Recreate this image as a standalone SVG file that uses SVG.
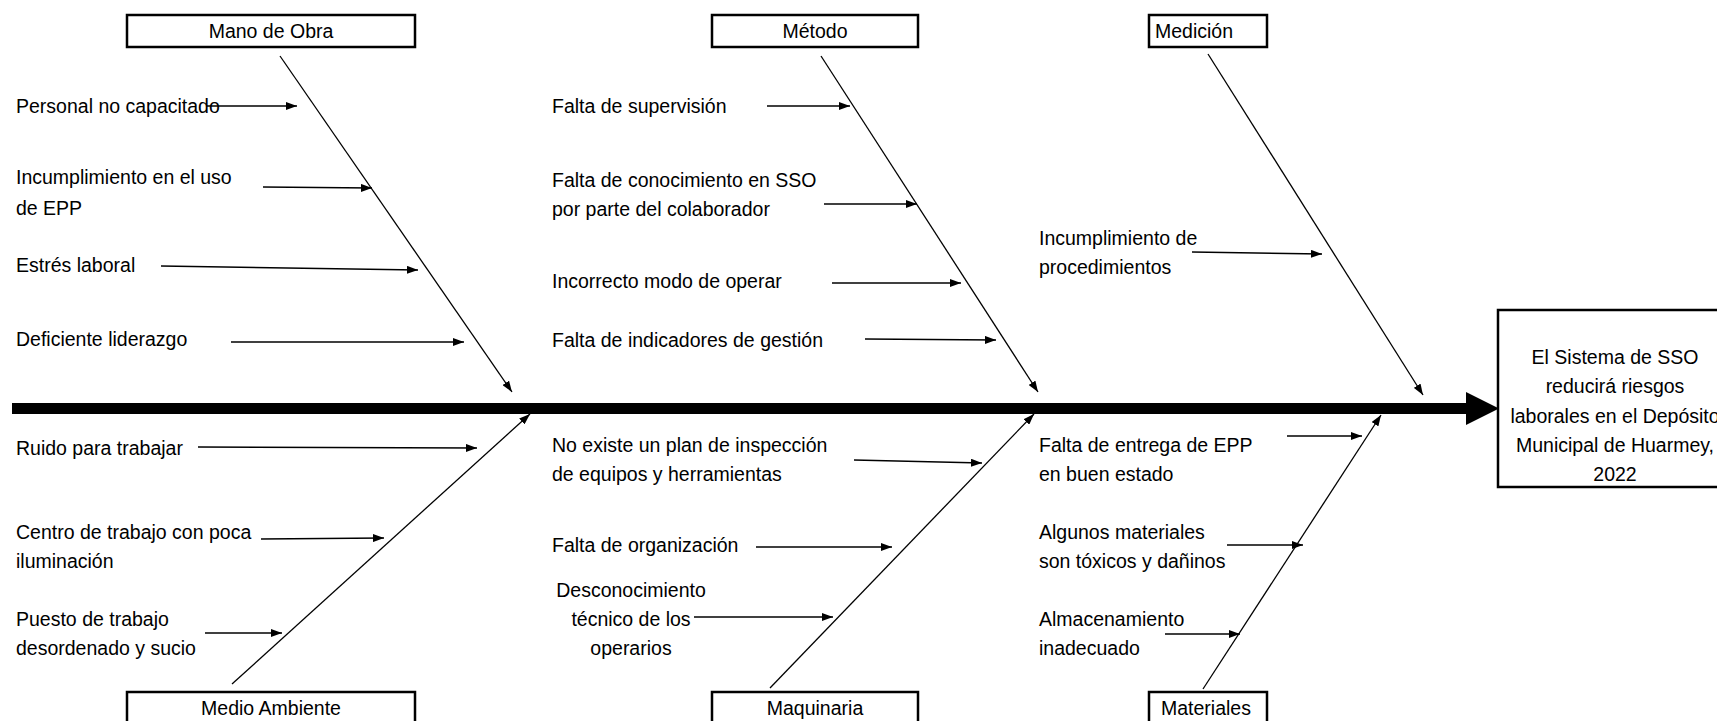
<svg xmlns="http://www.w3.org/2000/svg" width="1717" height="721" viewBox="0 0 1717 721">
<style>
text{font-family:"Liberation Sans",Arial,sans-serif;font-size:19.5px;fill:#000}
.c{text-anchor:middle}
.box{fill:#fff;stroke:#000;stroke-width:2.5}
.bone{stroke:#000;stroke-width:1.3;fill:none}
.arr{stroke:#000;stroke-width:1.5;fill:none}
</style>
<defs>
<marker id="ah" markerUnits="userSpaceOnUse" markerWidth="11" markerHeight="8" refX="11" refY="4" orient="auto">
<path d="M0,0 L11,4 L0,8 z" fill="#000"/>
</marker>
</defs>
<rect width="1717" height="721" fill="#fff"/>
<g id="connectors">
<rect x="12" y="403" width="1456" height="11" fill="#000"/>
<path d="M1466,392 L1499,408.5 L1466,425 z" fill="#000"/>
<line class="bone" x1="280" y1="56" x2="512" y2="392" marker-end="url(#ah)"/>
<line class="bone" x1="821" y1="56" x2="1038" y2="392" marker-end="url(#ah)"/>
<line class="bone" x1="1208" y1="54" x2="1423" y2="395" marker-end="url(#ah)"/>
<line class="bone" x1="232" y1="684" x2="530" y2="414" marker-end="url(#ah)"/>
<line class="bone" x1="770" y1="688" x2="1034" y2="414" marker-end="url(#ah)"/>
<line class="bone" x1="1203" y1="689" x2="1381" y2="415" marker-end="url(#ah)"/>
<line class="arr" x1="207" y1="106" x2="297" y2="106" marker-end="url(#ah)"/>
<line class="arr" x1="263" y1="187" x2="372" y2="188" marker-end="url(#ah)"/>
<line class="arr" x1="161" y1="266" x2="418" y2="270" marker-end="url(#ah)"/>
<line class="arr" x1="231" y1="342" x2="464" y2="342" marker-end="url(#ah)"/>
<line class="arr" x1="767" y1="106" x2="850" y2="106" marker-end="url(#ah)"/>
<line class="arr" x1="824" y1="204" x2="917" y2="204" marker-end="url(#ah)"/>
<line class="arr" x1="832" y1="283" x2="961" y2="283" marker-end="url(#ah)"/>
<line class="arr" x1="865" y1="339" x2="996" y2="340" marker-end="url(#ah)"/>
<line class="arr" x1="1192" y1="252" x2="1322" y2="254" marker-end="url(#ah)"/>
<line class="arr" x1="198" y1="447" x2="477" y2="448" marker-end="url(#ah)"/>
<line class="arr" x1="261" y1="539" x2="384" y2="538" marker-end="url(#ah)"/>
<line class="arr" x1="205" y1="633" x2="282" y2="633" marker-end="url(#ah)"/>
<line class="arr" x1="854" y1="460" x2="982" y2="463" marker-end="url(#ah)"/>
<line class="arr" x1="756" y1="547" x2="892" y2="547" marker-end="url(#ah)"/>
<line class="arr" x1="694" y1="617" x2="833" y2="617" marker-end="url(#ah)"/>
<line class="arr" x1="1287" y1="436" x2="1362" y2="436" marker-end="url(#ah)"/>
<line class="arr" x1="1227" y1="545" x2="1303" y2="545" marker-end="url(#ah)"/>
<line class="arr" x1="1165" y1="634" x2="1240" y2="634" marker-end="url(#ah)"/>
</g>
<g id="mano-de-obra">
<rect class="box" x="127" y="15" width="288" height="32"/>
<text class="c" x="271" y="38">Mano de Obra</text>
</g>
<g id="metodo">
<rect class="box" x="712" y="15" width="206" height="32"/>
<text class="c" x="815" y="38">Método</text>
</g>
<g id="medicion">
<rect class="box" x="1149" y="15" width="118" height="32"/>
<text x="1155" y="38">Medición</text>
</g>
<g id="medio-ambiente">
<rect class="box" x="127" y="692" width="288" height="40"/>
<text class="c" x="271" y="715">Medio Ambiente</text>
</g>
<g id="maquinaria">
<rect class="box" x="712" y="692" width="206" height="40"/>
<text class="c" x="815" y="715">Maquinaria</text>
</g>
<g id="materiales">
<rect class="box" x="1149" y="692" width="118" height="40"/>
<text x="1161" y="715">Materiales</text>
</g>
<g id="efecto">
<rect class="box" x="1498" y="310" width="240" height="177"/>
<text class="c" x="1615" y="364">El Sistema de SSO</text>
<text class="c" x="1615" y="393">reducirá riesgos</text>
<text class="c" x="1615" y="423">laborales en el Depósito</text>
<text class="c" x="1615" y="452">Municipal de Huarmey,</text>
<text class="c" x="1615" y="481">2022</text>
</g>
<g id="causas-mano-de-obra">
<text x="16" y="113">Personal no capacitado</text>
<text x="16" y="184">Incumplimiento en el uso</text>
<text x="16" y="215">de EPP</text>
<text x="16" y="272">Estrés laboral</text>
<text x="16" y="346">Deficiente liderazgo</text>
</g>
<g id="causas-metodo">
<text x="552" y="113">Falta de supervisión</text>
<text x="552" y="187">Falta de conocimiento en SSO</text>
<text x="552" y="216">por parte del colaborador</text>
<text x="552" y="288">Incorrecto modo de operar</text>
<text x="552" y="347">Falta de indicadores de gestión</text>
</g>
<g id="causas-medicion">
<text x="1039" y="245">Incumplimiento de</text>
<text x="1039" y="274">procedimientos</text>
</g>
<g id="causas-medio-ambiente">
<text x="16" y="455">Ruido para trabajar</text>
<text x="16" y="539">Centro de trabajo con poca</text>
<text x="16" y="568">iluminación</text>
<text x="16" y="626">Puesto de trabajo</text>
<text x="16" y="655">desordenado y sucio</text>
</g>
<g id="causas-maquinaria">
<text x="552" y="452">No existe un plan de inspección</text>
<text x="552" y="481">de equipos y herramientas</text>
<text x="552" y="552">Falta de organización</text>
<text class="c" x="631" y="597">Desconocimiento</text>
<text class="c" x="631" y="626">técnico de los</text>
<text class="c" x="631" y="655">operarios</text>
</g>
<g id="causas-materiales">
<text x="1039" y="452">Falta de entrega de EPP</text>
<text x="1039" y="481">en buen estado</text>
<text x="1039" y="539">Algunos materiales</text>
<text x="1039" y="568">son tóxicos y dañinos</text>
<text x="1039" y="626">Almacenamiento</text>
<text x="1039" y="655">inadecuado</text>
</g>
</svg>
